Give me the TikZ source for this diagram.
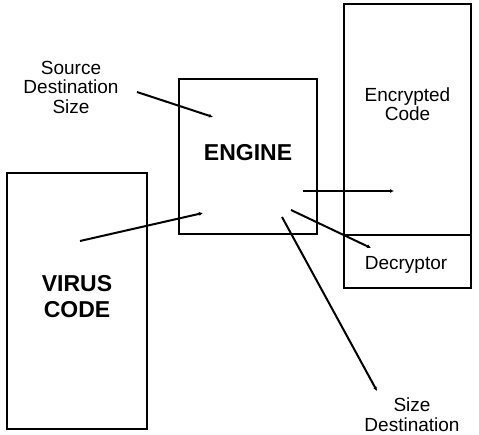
\documentclass[tikz,border=0pt]{standalone}
\usepackage{fontspec}
\setmainfont{Liberation Sans}
\usetikzlibrary{arrows.meta}
\begin{document}
\begin{tikzpicture}[x=1pt,y=-1pt,
  box/.style={draw,line width=1.3pt,inner sep=0pt},
  lbl/.style={align=center,inner sep=0pt,font=\fontsize{19}{19.5}\selectfont},
  big/.style={align=center,inner sep=0pt,font=\fontsize{23}{26}\selectfont\bfseries},
  conn/.style={line width=2pt,-{Latex[length=4pt,width=4pt]}}]
\useasboundingbox (0,0) rectangle (479,435);
% boxes
\node[box,minimum width=140pt,minimum height=256pt] (virus) at (77,301) {};
\node[big] (virustxt) at (77,297) {VIRUS\\CODE};
\node[box,minimum width=138pt,minimum height=155pt] (engine) at (248,156.5) {};
\node[big] (enginetxt) at (248,153) {ENGINE};
\node[box,minimum width=127pt,minimum height=231pt] (enc) at (407.5,119.5) {};
\node[lbl] (enctxt) at (407.5,104) {Encrypted\\Code};
\node[box,minimum width=127pt,minimum height=53pt] (dec) at (407.5,261.5) {};
\node[lbl] (dectxt) at (406,265) {Decryptor};
% labels
\node[lbl] (src) at (71,87) {Source\\Destination\\Size};
\node[lbl] (sd) at (412,414.5) {Size\\Destination};
% connector ends
\coordinate (a1) at (137,92);
\coordinate (b1) at (213,117);
\coordinate (a2) at (80,241);
\coordinate (b2) at (203,213);
\coordinate (a3) at (303,191);
\coordinate (b3) at (394,191);
\coordinate (a4) at (291,210);
\coordinate (b4) at (371,248);
\coordinate (a5) at (282,217);
\coordinate (b5) at (377,391);
\draw[conn] (a1) -- (b1);
\draw[conn] (a2) -- (b2);
\draw[conn] (a3) -- (b3);
\draw[conn] (a4) -- (b4);
\draw[conn] (a5) -- (b5);
\end{tikzpicture}
\end{document}
